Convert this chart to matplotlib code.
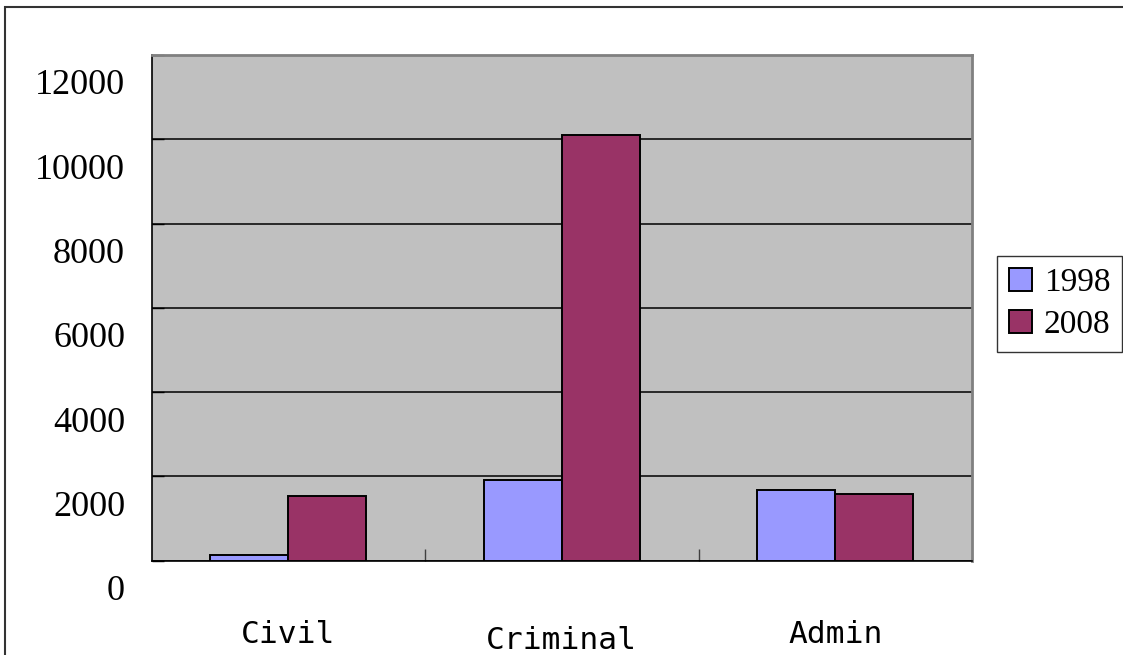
import matplotlib
matplotlib.use("Agg")
import matplotlib.pyplot as plt
import matplotlib.patches as mpatches
from matplotlib.transforms import ScaledTranslation
import numpy as np

categories = ["Civil", "Criminal", "Admin"]
series_names = ["1998", "2008"]
values_1998 = [120, 1900, 1685]
values_2008 = [1525, 10100, 1580]
y_ticks = [0, 2000, 4000, 6000, 8000, 10000, 12000]
colors = ["#9999FF", "#993366"]

W, H = 1123, 655
fig = plt.figure(figsize=(W / 100, H / 100), dpi=100)
ax = fig.add_axes([151.5 / W, (H - 560.5) / H, 820.5 / W, 505.5 / H])
ax.set_facecolor("#C0C0C0")

x = np.arange(len(categories))
bw = 0.285
b1 = ax.bar(x - bw / 2, values_1998, bw, color=colors[0], edgecolor="black", linewidth=1.4, zorder=3)
b2 = ax.bar(x + bw / 2, values_2008, bw, color=colors[1], edgecolor="black", linewidth=1.4, zorder=3)

ax.set_xlim(-0.5, len(categories) - 0.5)
ax.set_ylim(0, 12000)
ax.set_yticks(y_ticks)
ax.set_yticklabels([str(v) for v in y_ticks], fontfamily="Liberation Serif", fontsize=26)
ax.yaxis.grid(True, color="black", linewidth=1.1, zorder=1)
ax.set_axisbelow(True)
ax.tick_params(axis="y", direction="in", length=8.6, width=1, color="black", pad=19)
for lab in ax.get_yticklabels():
    lab.set_transform(lab.get_transform() + ScaledTranslation(0, -0.27, fig.dpi_scale_trans))

ax.set_xticks(x)
ax.set_xticklabels(categories, fontfamily="DejaVu Sans Mono", fontsize=22.5)
ax.tick_params(axis="x", which="major", length=0, pad=43)
ax.set_xticks(np.arange(0.5, len(categories) - 0.5, 1.0), minor=True)
ax.tick_params(axis="x", which="minor", direction="in", length=8.6, width=1, color="#404040")
labs = ax.get_xticklabels()
labs[1].set_transform(labs[1].get_transform() + ScaledTranslation(0, -0.06, fig.dpi_scale_trans))

for s in ["top", "right"]:
    ax.spines[s].set_color("#808080")
    ax.spines[s].set_linewidth(2)
for s in ["left", "bottom"]:
    ax.spines[s].set_color("black")
    ax.spines[s].set_linewidth(1.2)

handles = [mpatches.Patch(facecolor=c, edgecolor="black", linewidth=1.4) for c in colors]
leg = fig.legend(handles, series_names, loc="center right",
                 bbox_to_anchor=(1122.0 / W, (H - 304) / H),
                 prop={"family": "Liberation Serif", "size": 24},
                 frameon=True, fancybox=False, edgecolor="black",
                 handlelength=0.7, handleheight=0.7, handletextpad=0.35,
                 borderpad=0.35, labelspacing=0.35, borderaxespad=0)
leg.get_frame().set_linewidth(1.0)

border = mpatches.Rectangle((5 / W, -0.1), 1.2, (H - 7) / H + 0.1, transform=fig.transFigure,
                            fill=False, edgecolor="#333333", linewidth=1.5)
fig.patches.append(border)

fig.savefig("out.png", dpi=100)
